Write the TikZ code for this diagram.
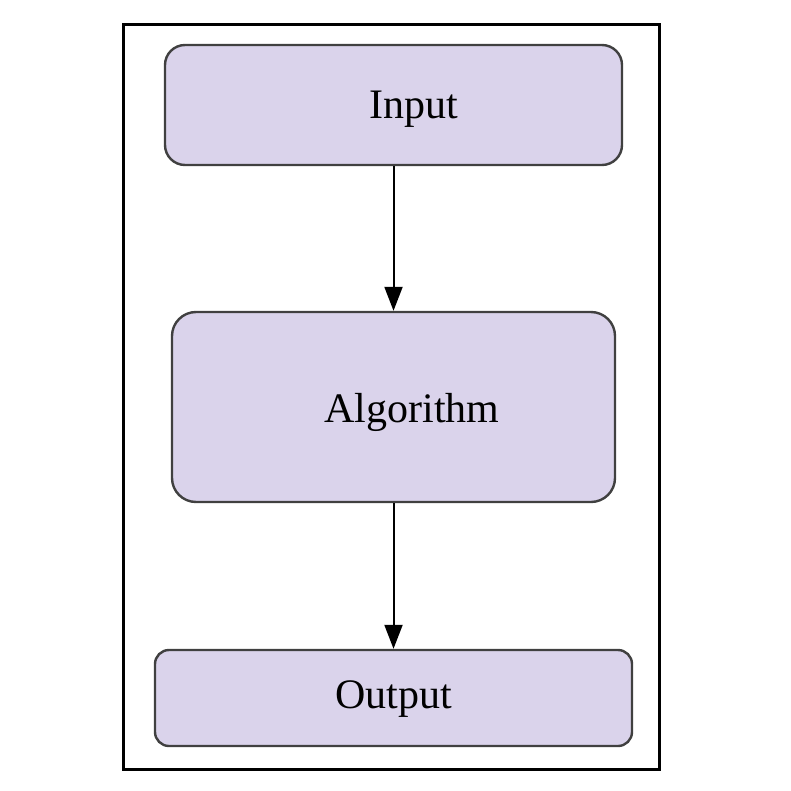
\documentclass[tikz,border=0pt]{standalone}
\usepackage{fontspec}
\setmainfont{Liberation Serif}
\usetikzlibrary{arrows.meta}
\definecolor{boxfill}{HTML}{DAD3EB}
\definecolor{boxline}{HTML}{404040}
\tikzset{
  stage/.style={draw=boxline, fill=boxfill, line width=1.2pt, inner sep=0pt},
  label/.style={font=\fontsize{21}{25}\selectfont, inner sep=0pt},
  flow/.style={line width=1pt, -{Triangle[length=12pt,width=9pt]}}
}
\begin{document}
\begin{tikzpicture}[x=0.5pt, y=-0.5pt]
\useasboundingbox (0,0) rectangle (791,791);
\draw[line width=1.5pt] (123,25) rectangle (659,769);

\node[stage, rounded corners=10pt, minimum width=228.5pt, minimum height=60pt] (input) at (393.5,105) {};
\node[stage, rounded corners=12pt, minimum width=221.5pt, minimum height=95pt] (algo) at (393.5,407) {};
\node[stage, rounded corners=7pt, minimum width=238.5pt, minimum height=48pt] (output) at (393.5,698) {};

\node[label] (inputtext) at (414,109) {Input};
\node[label] (algotext) at (412,412) {Algorithm};
\node[label] (outputtext) at (394,699) {Output};

\draw[flow] (input.south) -- (algo.north);
\draw[flow] (algo.south) -- (output.north);
\end{tikzpicture}
\end{document}
